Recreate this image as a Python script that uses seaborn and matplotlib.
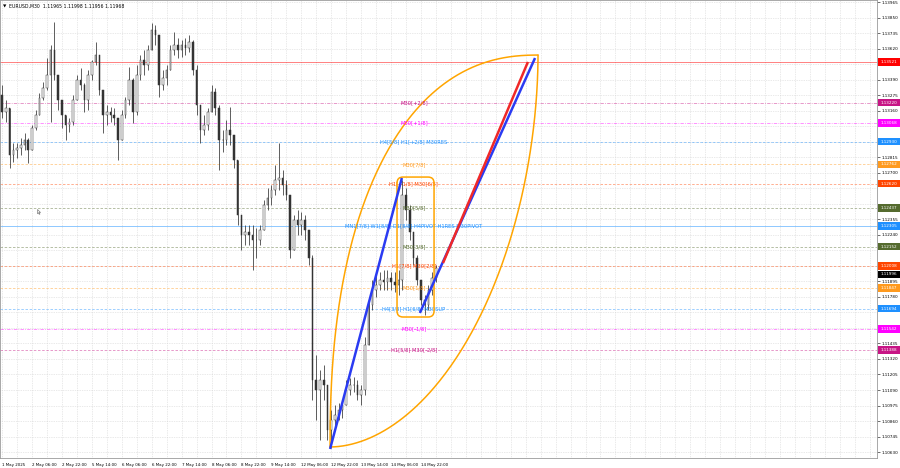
import matplotlib
matplotlib.use('Agg')
import matplotlib.pyplot as plt
import seaborn as sns
import numpy as np
import pandas as pd
from matplotlib.patches import FancyBboxPatch, Rectangle
from matplotlib.path import Path
import matplotlib.transforms as mtransforms

sns.set_style('white')
plt.rcParams['font.family'] = ['DejaVu Sans']

# ---------------- data ----------------
chart_title = "EURUSD,M30  1.11965 1.11998 1.11956 1.11968"

first_open = 1.13350
highs = [1.13424, 1.13350, 1.13239, 1.13165, 1.12920, 1.12920, 1.12957, 1.12994, 1.12957, 1.13054,
         1.13165, 1.13291, 1.13372, 1.13550, 1.13647, 1.13817, 1.13424, 1.13202, 1.13128, 1.13106,
         1.13276, 1.13424, 1.13476, 1.13365, 1.13461, 1.13535, 1.13669, 1.13572, 1.13276, 1.13202,
         1.13187, 1.13180, 1.13106, 1.13165, 1.13261, 1.13484, 1.13402, 1.13498, 1.13572, 1.13610,
         1.13647, 1.13810, 1.13795, 1.13721, 1.13461, 1.13498, 1.13647, 1.13743, 1.13698, 1.13684,
         1.13698, 1.13721, 1.13684, 1.13498, 1.13202, 1.13128, 1.13180, 1.13350, 1.13328, 1.13202,
         1.13017, 1.13091, 1.13187, 1.12980, 1.12794, 1.12387, 1.12313, 1.12313, 1.12313, 1.12291,
         1.12313, 1.12498, 1.12587, 1.12609, 1.12757, 1.12920, 1.12720, 1.12646, 1.12535, 1.12387,
         1.12424, 1.12409, 1.12387, 1.12239, 1.12090, 1.11349, 1.11238, 1.11275, 1.11053, 1.10942,
         1.10979, 1.10994, 1.11016, 1.11164, 1.11179, 1.11186, 1.11164, 1.11127, 1.11483, 1.11779,
         1.11905, 1.11935, 1.11965, 1.11979, 1.11979, 1.11965, 1.11965, 1.11979, 1.12646, 1.12587,
         1.12461, 1.12239, 1.12090, 1.11905, 1.11794, 1.11868, 1.11965, 1.12016]
lows = [1.13239, 1.13106, 1.13076, 1.12735, 1.12780, 1.12809, 1.12831, 1.12869, 1.12772, 1.12869,
        1.13017, 1.13128, 1.13239, 1.13313, 1.13076, 1.13387, 1.13165, 1.13032, 1.12943, 1.13002,
        1.13054, 1.13239, 1.13313, 1.13150, 1.13165, 1.13387, 1.13498, 1.13276, 1.12994, 1.13054,
        1.13076, 1.13054, 1.12794, 1.12943, 1.13106, 1.13202, 1.13069, 1.13128, 1.13387, 1.13424,
        1.13461, 1.13610, 1.13647, 1.13261, 1.13313, 1.13350, 1.13461, 1.13572, 1.13550, 1.13558,
        1.13572, 1.13595, 1.13424, 1.13128, 1.12920, 1.12980, 1.13017, 1.13150, 1.13128, 1.12720,
        1.12854, 1.12906, 1.12906, 1.12735, 1.12313, 1.12128, 1.12165, 1.12165, 1.11979, 1.12068,
        1.12165, 1.12276, 1.12424, 1.12461, 1.12535, 1.12572, 1.12535, 1.12498, 1.12068, 1.12128,
        1.12239, 1.12239, 1.12202, 1.12016, 1.11016, 1.10868, 1.10720, 1.11016, 1.10720, 1.10660,
        1.10809, 1.10868, 1.10883, 1.10979, 1.11053, 1.11075, 1.11016, 1.10979, 1.11053, 1.11424,
        1.11683, 1.11779, 1.11831, 1.11831, 1.11831, 1.11831, 1.11816, 1.11794, 1.11831, 1.12350,
        1.12202, 1.12016, 1.11868, 1.11720, 1.11646, 1.11683, 1.11794, 1.11890]
closes = [1.13276, 1.13150, 1.13180, 1.12831, 1.12869, 1.12883, 1.12906, 1.12943, 1.12869, 1.13032,
          1.13128, 1.13254, 1.13328, 1.13424, 1.13610, 1.13424, 1.13239, 1.13128, 1.13054, 1.13076,
          1.13239, 1.13387, 1.13350, 1.13239, 1.13424, 1.13521, 1.13572, 1.13313, 1.13128, 1.13150,
          1.13128, 1.13106, 1.12943, 1.13128, 1.13239, 1.13387, 1.13150, 1.13424, 1.13535, 1.13498,
          1.13610, 1.13758, 1.13721, 1.13350, 1.13402, 1.13461, 1.13610, 1.13647, 1.13610, 1.13647,
          1.13624, 1.13669, 1.13461, 1.13202, 1.13017, 1.13054, 1.13150, 1.13298, 1.13180, 1.12943,
          1.12943, 1.13017, 1.12980, 1.12794, 1.12387, 1.12239, 1.12261, 1.12239, 1.12202, 1.12202,
          1.12276, 1.12461, 1.12513, 1.12572, 1.12646, 1.12661, 1.12609, 1.12535, 1.12128, 1.12350,
          1.12313, 1.12350, 1.12276, 1.12068, 1.11164, 1.11090, 1.11164, 1.11127, 1.10794, 1.10868,
          1.10905, 1.10942, 1.10979, 1.11090, 1.11127, 1.11127, 1.11053, 1.11090, 1.11424, 1.11720,
          1.11831, 1.11868, 1.11905, 1.11890, 1.11920, 1.11890, 1.11868, 1.11905, 1.12535, 1.12424,
          1.12261, 1.12068, 1.11905, 1.11757, 1.11720, 1.11831, 1.11920, 1.11994]

time_labels = ["1 May 2025", "2 May 06:00", "2 May 22:00", "5 May 14:00", "6 May 06:00",
               "6 May 22:00", "7 May 14:00", "8 May 06:00", "8 May 22:00", "9 May 14:00",
               "12 May 06:00", "12 May 22:00", "13 May 14:00", "14 May 06:00", "14 May 22:00"]

level_prices = [1.13521, 1.13220, 1.13068, 1.12930, 1.12762, 1.12620, 1.12437, 1.12305,
                1.12152, 1.12008, 1.11847, 1.11694, 1.11542, 1.11388]
level_names = ["", "M30[+2/8]", "M30[+1/8]", "H4[5/8] H1[+2/8] M30RES", "M30[7/8]",
               "H1[+1/8] M30[6/8]", "M30[5/8]",
               "MN1[7/8] W1[8/8] D1[8/8] H4PIVOT H1RES M30PIVOT", "M30[3/8]",
               "H1[7/8] M30[2/8]", "M30[1/8]", "H4[3/8] H1[6/8] M30SUP", "M30[-1/8]",
               "H1[5/8] M30[-2/8]"]
level_colors = ['#FF0000', '#C71585', '#FF00FF', '#1E90FF', '#FF9A1E', '#FF4500', '#556B2F',
                '#1E90FF', '#556B2F', '#FF4500', '#FF9A1E', '#1E90FF', '#FF00FF', '#C71585']
level_styles = ['solid', 'dashdot', 'dashdot', 'dashed', 'dashed', 'dashed', 'dashed',
                'solid', 'dashed', 'dashed', 'dashed', 'dashed', 'dashdot', 'dashed']
current_price = 1.11996

# drawing objects anchored at (bar index, price)
arc_bars = [88.7, 144.3]
arc_prices = [1.10668, 1.13572]
arc_upper_exp = 2.3
arc_lower_exp = 1.9
blue_line1_bars = [88.7, 107.9]
blue_line1_prices = [1.10653, 1.12661]
blue_line2_bars = [112.7, 143.5]
blue_line2_prices = [1.11661, 1.13550]
red_line_bars = [118.9, 141.6]
red_line_prices = [1.12031, 1.13521]
box_bars = [106.6, 116.5]
box_prices = [1.11631, 1.12668]
cursor_bar = 10.3
cursor_price = 1.12430

# ---------------- figure ----------------
W, H = 900, 468
fig = plt.figure(figsize=(W / 100, H / 100), dpi=100)
fig.patch.set_facecolor('white')
ax_left, ax_right, ax_top, ax_bot = 0, 877, 0, 458
ax = fig.add_axes([ax_left / W, (H - ax_bot) / H, (ax_right - ax_left) / W, (ax_bot - ax_top) / H])
ax.set_facecolor('white')

px_per_bar = 3.74
xmin = 0.444
xmax = xmin + (ax_right - ax_left) / px_per_bar
ymax = 1.13980
ymin = ymax - 0.0000741 * (ax_bot - ax_top)
ax.set_xlim(xmin, xmax)
ax.set_ylim(ymin, ymax)

# grid
price_ticks = [round(1.10630 + 0.00115 * k, 5) for k in range(30)]
grid_bars = np.arange(1, xmax, 4)
ax.vlines(grid_bars, ymin, ymax, colors='#d4d4d4', linestyles=(0, (1, 1.5)), linewidth=0.5, zorder=0)
ax.hlines(price_ticks, xmin, xmax, colors='#d4d4d4', linestyles=(0, (1, 1.5)), linewidth=0.5, zorder=0)

# levels
dash_map = {'solid': '-', 'dashed': (0, (3, 2)), 'dashdot': (0, (4, 1.5, 1, 1.5))}
for p, c, s in zip(level_prices, level_colors, level_styles):
    ax.axhline(p, color=c, linestyle=dash_map[s], linewidth=0.7 if s == 'solid' else 0.6,
               alpha=0.5, zorder=1)

# candles
n = len(closes)
idx = np.arange(n)
opens = [first_open] + closes[:-1]
df = pd.DataFrame({'i': idx, 'o': opens, 'h': highs, 'l': lows, 'c': closes})
top = df[['h', 'o', 'c']].max(axis=1)
bot = df[['l', 'o', 'c']].min(axis=1)
ax.vlines(df['i'], bot, top, colors='#333333', linewidth=0.55, zorder=3)
up = df['c'] >= df['o']
body_w = 0.42
ax.bar(df['i'][up], (df['c'] - df['o'])[up], bottom=df['o'][up], width=body_w,
       color='white', edgecolor='#333333', linewidth=0.35, zorder=4)
ax.bar(df['i'][~up], (df['o'] - df['c'])[~up], bottom=df['c'][~up], width=body_w,
       color='#333333', edgecolor='#333333', linewidth=0.35, zorder=4)

# level text
text_bar = 111.1
for p, name, c in zip(level_prices, level_names, level_colors):
    if name:
        ax.text(text_bar, p, name, color=c, fontsize=3.7, ha='center', va='center', zorder=6)

# leaf-shaped arc object: two quarter curves between the two anchors
th = np.linspace(0, np.pi / 2, 200)
db = arc_bars[1] - arc_bars[0]
dp = arc_prices[1] - arc_prices[0]
up_x = arc_bars[1] - db * np.cos(th) ** (2 / arc_upper_exp)
up_y = arc_prices[0] + dp * np.sin(th) ** (2 / arc_upper_exp)
lo_x = arc_bars[0] + db * np.sin(th) ** (2 / arc_lower_exp)
lo_y = arc_prices[1] - dp * np.cos(th) ** (2 / arc_lower_exp)
for xs, ys in [(up_x, up_y), (lo_x, lo_y)]:
    arc_df = pd.DataFrame({'x': xs, 'y': ys})
    sns.lineplot(data=arc_df, x='x', y='y', sort=False, estimator=None, color='#FFA500',
                 linewidth=1.1, ax=ax, zorder=5)

# trend lines
for bars, prices, col in [(blue_line1_bars, blue_line1_prices, '#2A3BF2'),
                          (blue_line2_bars, blue_line2_prices, '#2A3BF2'),
                          (red_line_bars, red_line_prices, '#F02828')]:
    sns.lineplot(x=bars, y=prices, color=col, linewidth=1.8, ax=ax, zorder=7,
                 solid_capstyle='butt')

# rounded rectangle
aspect = 0.0000741 * px_per_bar
rect = FancyBboxPatch((box_bars[0], box_prices[0]), box_bars[1] - box_bars[0],
                      box_prices[1] - box_prices[0],
                      boxstyle='round,pad=0,rounding_size=1.6', mutation_aspect=aspect,
                      facecolor='none', edgecolor='#FFA500', linewidth=1.1, zorder=6)
ax.add_patch(rect)

# mouse cursor glyph
cursor_path = Path([(0, 0), (0, -10), (2.4, -7.8), (4.2, -11.6), (5.8, -10.9), (4.0, -7.2),
                    (7.2, -7.2), (0, 0)],
                   [Path.MOVETO] + [Path.LINETO] * 6 + [Path.CLOSEPOLY])
ax.plot([cursor_bar], [cursor_price], marker=cursor_path, markersize=7,
        markerfacecolor='white', markeredgecolor='#808080', markeredgewidth=0.5,
        linestyle='none', zorder=8)

# right-scale coloured price boxes
boxes = list(zip(level_prices, level_colors))
boxes.insert(9, (current_price - 0.00050, '#000000'))
box_price_list = [p for p, _ in boxes]

# axes styling
for sp in ax.spines.values():
    sp.set_color('#9a9a9a')
    sp.set_linewidth(0.6)
ax.yaxis.tick_right()
shown_ticks = [v for v in price_ticks if min(abs(v - q) for q in box_price_list) > 0.00040]
ax.set_yticks(shown_ticks)
ax.set_yticklabels([f"{v:.5f}" for v in shown_ticks])
label_bars = [1] + [9 + 8 * k for k in range(len(time_labels) - 1)]
ax.set_xticks(label_bars)
ax.set_xticklabels(time_labels, ha='left')
ax.set_xticks(grid_bars, minor=True)
ax.tick_params(axis='y', labelsize=3.0, length=2, width=0.4, pad=1.5, colors='black')
ax.tick_params(axis='x', labelsize=2.9, length=2, width=0.4, pad=1.5, colors='black')
ax.tick_params(axis='x', which='minor', length=1.2, width=0.4)
ax.set_xlabel('')
ax.set_ylabel('')
ax.grid(False)

trans = mtransforms.blended_transform_factory(ax.transAxes, ax.transData)
box_h = 0.0000741 * 7.5
box_x0 = 1.0015
box_w = 22 / (ax_right - ax_left)
for p, c in boxes:
    ax.add_patch(Rectangle((box_x0, p - box_h / 2), box_w, box_h, transform=trans,
                           facecolor=c, edgecolor='none', clip_on=False, zorder=10))
    lab = current_price if c == '#000000' else p
    ax.text(box_x0 + box_w / 2, p, f"{lab:.5f}", transform=trans, color='white',
            fontsize=3.0, ha='center', va='center', clip_on=False, zorder=11)

# title
ax.text(3 / 877, 1 - 6 / 458, "\u25BC", transform=ax.transAxes, fontsize=3.2,
        ha='left', va='center', color='black')
ax.text(9 / 877, 1 - 6 / 458, chart_title, transform=ax.transAxes, fontsize=3.3,
        ha='left', va='center', color='black')

fig.savefig('out.png', dpi=100)
